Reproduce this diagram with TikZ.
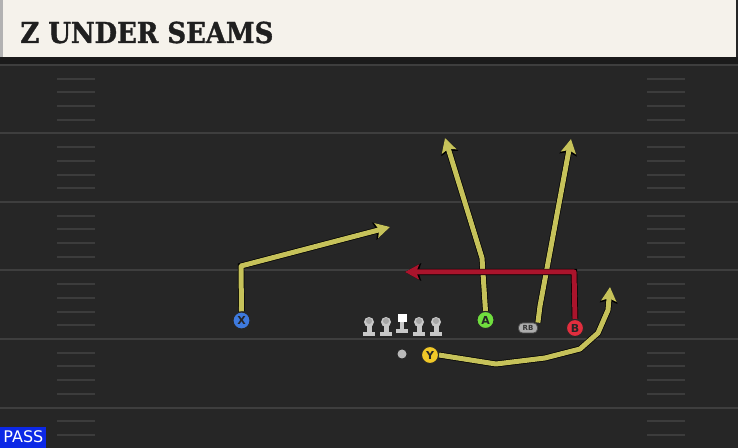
\documentclass[tikz,border=0pt]{standalone}
\usepackage{fontspec}
\setsansfont{DejaVu Sans}
\newfontfamily\titlefont{DejaVu Serif}[FakeStretch=0.9, FakeBold=1.2]
\usetikzlibrary{arrows.meta}
\definecolor{Field}{RGB}{38,38,38}
\definecolor{Band}{RGB}{27,27,27}
\definecolor{Yard}{RGB}{62,62,62}
\definecolor{Hash}{RGB}{60,60,60}
\definecolor{Cream}{RGB}{245,242,235}
\definecolor{Route}{RGB}{198,194,90}
\definecolor{Drag}{RGB}{170,20,44}
\definecolor{PlrX}{RGB}{62,122,222}
\definecolor{PlrA}{RGB}{112,222,62}
\definecolor{PlrY}{RGB}{240,200,40}
\definecolor{PlrB}{RGB}{226,46,62}
\definecolor{Line}{RGB}{200,200,200}
\definecolor{Pass}{RGB}{12,40,230}

\begin{document}
\begin{tikzpicture}[x=0.5pt,y=-0.5pt]
    \tikzset{ plr/.style={circle, draw=black!85, line width=0.5pt, minimum size=8.5pt, inner sep=0pt, text=black!85, font=\sffamily\bfseries\fontsize{5.5}{5.5}\selectfont} }
    \tikzset{ rte/.style={draw=Route, line width=2.5pt, line join=round, -{Stealth[length=7pt, width=7.5pt, inset=1.4pt]}, preaction={draw=black, line width=3.2pt, -{Stealth[length=8pt, width=8.6pt, inset=1.4pt]}}} }
    \tikzset{ lman/.pic={ \fill[Line] (-6,5) rectangle (6,9); \fill[Line] (-2.5,-5) rectangle (2.5,5); \fill[Line] (0,-5) circle (5); \fill[gray!70] (0,-6) circle (3); } }
    \tikzset{ cman/.pic={ \fill[Line] (-6,5) rectangle (6,9); \fill[Line] (-2,-3) rectangle (2,5); \fill[white] (-4.5,-10) rectangle (4.5,-2); } }

    % field and title bar
    \useasboundingbox (0,0) rectangle (738,448);
    \fill[Field] (0,0) rectangle (738,448);
    \fill[Band]  (0,57) rectangle (738,65);
    \fill[Cream] (3,0) rectangle (736,57);
    \fill[gray!60] (0,0) rectangle (3,57);
    \node[anchor=base west, inner sep=0pt, text=black!88, font=\titlefont\bfseries\fontsize{14.4}{14.4}\selectfont] (title) at (20,43) {Z UNDER SEAMS};

    % yard lines and hash marks
    \foreach \b in {65,133.5,202,270.5,339,407.5} {
        \draw[Yard, line width=1pt] (0,\b) -- (738,\b);
        \foreach \j in {1,...,4} {
            \draw[Hash, line width=1pt] (57,\b+13.7*\j) -- (95,\b+13.7*\j);
            \draw[Hash, line width=1pt] (647,\b+13.7*\j) -- (685,\b+13.7*\j);
        }
    }

    % offensive line and backs
    \pic at (369,327) {lman};
    \pic at (386,327) {lman};
    \pic at (402,324) {cman};
    \pic at (419,327) {lman};
    \pic at (436,327) {lman};
    \node[circle, fill=gray!55, minimum size=4.5pt, inner sep=0pt] (qb) at (402,354) {};
    \node[rectangle, rounded corners=2pt, fill=gray!65, draw=black!70, line width=0.4pt, minimum width=9.5pt, minimum height=5pt, inner sep=0pt, text=black!80, font=\sffamily\bfseries\fontsize{3.5}{3.5}\selectfont] (rb) at (528,328) {RB};

    % routes
    \coordinate (xb) at (241,266);
    \coordinate (xe) at (390,227);
    \coordinate (ab) at (482,258);
    \coordinate (ae) at (445,138);
    \coordinate (rbb) at (540,306);
    \coordinate (rbe) at (571,139);
    \coordinate (bb) at (574,272);
    \coordinate (be) at (405,272);
    \coordinate (y1) at (496,364);
    \coordinate (y2) at (545,358);
    \coordinate (y3) at (580,349);
    \coordinate (y4) at (598,333);
    \coordinate (y5) at (608,310);
    \coordinate (ye) at (610,287);

    \node[plr, fill=PlrX] (x) at (241.5,320.5) {X};
    \node[plr, fill=PlrA] (a) at (485.5,320)   {A};
    \node[plr, fill=PlrY] (y) at (430,355)     {Y};
    \node[plr, fill=PlrB] (b) at (575,328)     {B};

    \draw[rte] (x.north) -- (xb) -- (xe);
    \draw[rte] (a.north) -- (ab) -- (ae);
    \draw[rte] (rb.north east) -- (rbb) -- (rbe);
    \draw[rte, draw=Drag] (b.north) -- (bb) -- (be);
    \draw[rte] (y.east) -- (y1) -- (y2) -- (y3) -- (y4) -- (y5) -- (ye);

    % redraw players over route ends
    \node[plr, fill=PlrX] at (x) {X};
    \node[plr, fill=PlrA] at (a) {A};
    \node[plr, fill=PlrY] at (y) {Y};
    \node[plr, fill=PlrB] at (b) {B};

    % play type tag
    \node[anchor=south west, fill=Pass, text=white, minimum width=23pt, minimum height=10.5pt, inner sep=0pt, font=\sffamily\fontsize{8}{8}\selectfont] (tag) at (0,448) {PASS};
\end{tikzpicture}
\end{document}
